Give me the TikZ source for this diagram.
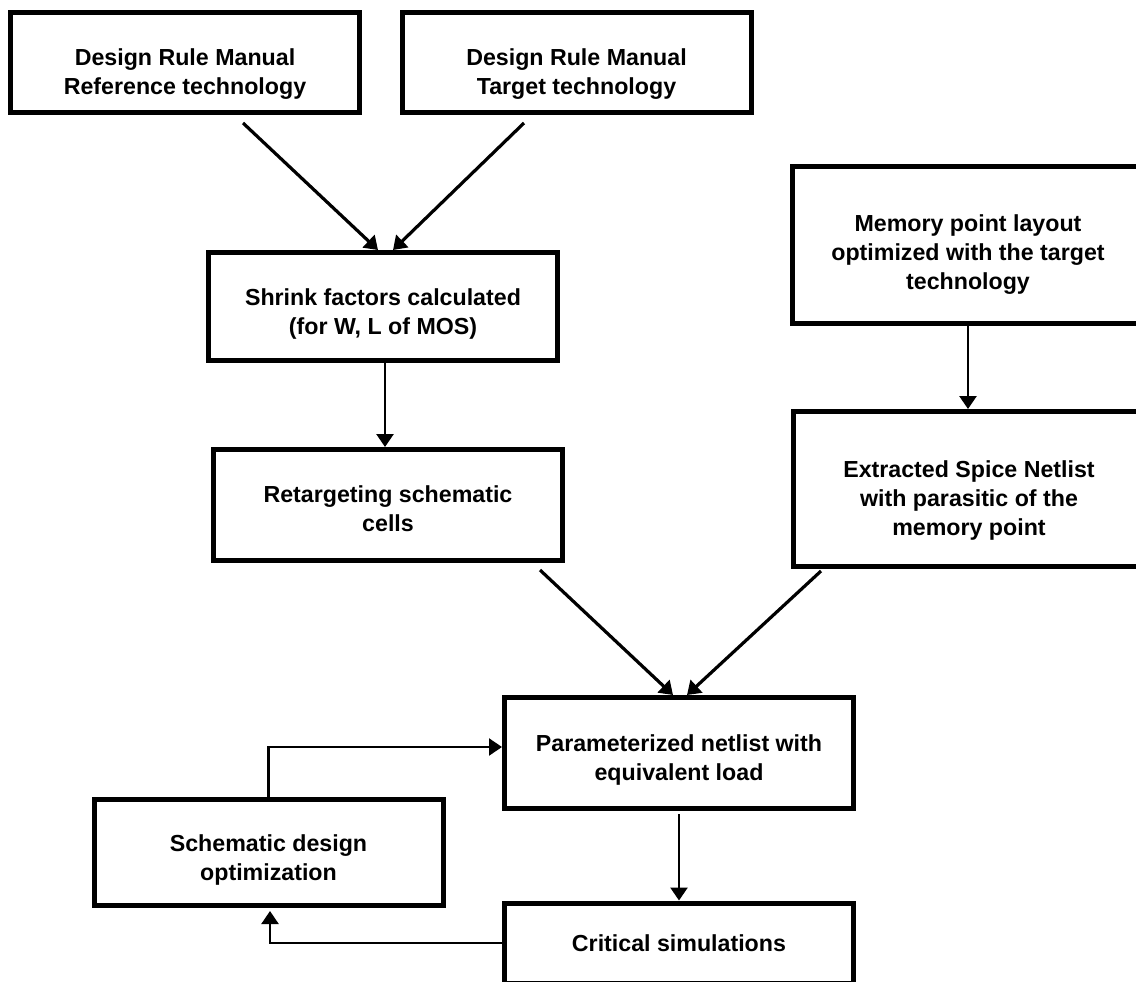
\documentclass[tikz,border=0pt]{standalone}
\usepackage{fontspec}
\setmainfont{Liberation Sans}
\usetikzlibrary{positioning,calc,arrows.meta}

\begin{document}
\begin{tikzpicture}[x=0.5pt, y=-0.5pt,
    stage/.style={draw, rectangle, line width=2.5pt, minimum width=174.5pt, align=center, inner sep=0pt, font=\fontsize{11.6}{14.5}\selectfont\bfseries},
    textdrop/.style={execute at begin node={\rule{0pt}{#1}}},
    flow/.style={-{Triangle[width=8.5pt,length=6.5pt]}, line width=1.3pt}]
    \useasboundingbox (0,0) rectangle (1136,981);

    \node [stage, textdrop=34pt, minimum height=50pt] (refdrm) at (185,62.5) {Design Rule Manual\\Reference technology};
    \node [stage, textdrop=34pt, minimum height=50pt] (tgtdrm) at (576.5,62.5) {Design Rule Manual\\Target technology};
    \node [stage, textdrop=30pt, minimum height=54pt] (shrink) at (383,306.5) {Shrink factors calculated\\(for W, L of MOS)};
    \node [stage, textdrop=27pt, minimum height=55.5pt] (retarget) at (388,505) {Retargeting schematic\\cells};
    \node [stage, textdrop=46.5pt, minimum height=78.5pt, minimum width=175.5pt] (memlayout) at (968,245) {Memory point layout\\optimized with the target\\technology};
    \node [stage, textdrop=48.5pt, minimum height=77.5pt, minimum width=175.5pt] (extracted) at (969,489) {Extracted Spice Netlist\\with parasitic of the\\memory point};
    \node [stage, textdrop=30pt, minimum height=55.5pt] (param) at (679,753) {Parameterized netlist with\\equivalent load};
    \node [stage, textdrop=30pt, minimum height=53pt] (schopt) at (268.5,852.5) {Schematic design\\optimization};
    \node [stage, minimum height=40pt] (critsim) at (679,943) {Critical simulations};

    \draw [flow, line width=1.6pt] ($(refdrm.south)+(58,8)$) -- ($(shrink.north)+(-5,0)$);
    \draw [flow, line width=1.6pt] ($(tgtdrm.south)+(-52.5,8)$) -- ($(shrink.north)+(10,0)$);
    \draw [flow] ($(shrink.south)+(2,0)$) -- ($(retarget.north)+(-3,0)$);
    \draw [flow] (memlayout.south) -- (memlayout.south |- extracted.north);
    \draw [flow, line width=1.6pt] ($(retarget.south)+(152,7)$) -- ($(param.north)+(-6,0)$);
    \draw [flow, line width=1.6pt] ($(extracted.south)+(-148,2)$) -- ($(param.north)+(8,0)$);
    \draw [flow] ($(param.south)+(0,3)$) -- (critsim.north);
    \draw [flow, line width=1.1pt] (schopt.north) |- ($(param.west)+(0,-6)$);
    \draw [flow, line width=1.1pt] (critsim.west) -| ($(schopt.south)+(1.5,3)$);
\end{tikzpicture}
\end{document}
